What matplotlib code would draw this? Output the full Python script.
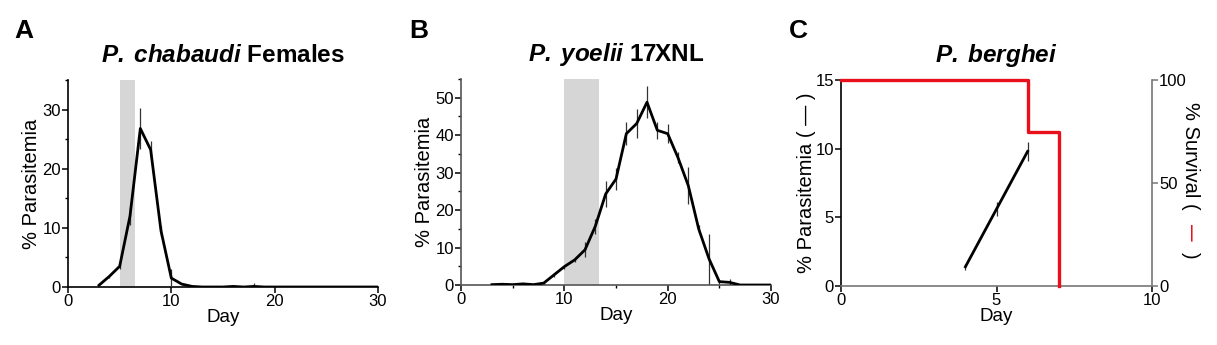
import numpy as np
import matplotlib
matplotlib.use("Agg")
import matplotlib.pyplot as plt
from matplotlib.ticker import MultipleLocator

plt.rcParams['font.family'] = ['Liberation Sans', 'DejaVu Sans']
plt.rcParams['mathtext.fontset'] = 'custom'
plt.rcParams['mathtext.bfit'] = 'Liberation Sans:italic:bold'
plt.rcParams['mathtext.it'] = 'Liberation Sans:italic'
plt.rcParams['mathtext.bf'] = 'Liberation Sans:bold'
plt.rcParams['mathtext.rm'] = 'Liberation Sans'

# P. chabaudi females: mean parasitemia and SEM per day
days_a = np.arange(3, 31)
mean_a = [0.3, 1.8, 3.5, 12.0, 26.8, 23.2, 9.5, 1.5, 0.5, 0.1,
          0.0, 0.0, 0.0, 0.1, 0.0, 0.1, 0.0, 0.0, 0.0, 0.0,
          0.0, 0.0, 0.0, 0.0, 0.0, 0.0, 0.0, 0.0]
sem_a = [0.2, 0.3, 0.5, 1.5, 3.4, 1.5, 0.8, 1.5, 0.2, 0.1,
         0.0, 0.0, 0.0, 0.3, 0.0, 0.5, 0.0, 0.0, 0.0, 0.0,
         0.0, 0.0, 0.0, 0.0, 0.0, 0.0, 0.0, 0.0]
shade_a = (5, 6.5)

# P. yoelii 17XNL
days_b = np.arange(3, 31)
mean_b = [0.1, 0.2, 0.1, 0.3, 0.1, 0.5, 2.7, 4.9, 6.7, 9.4,
          15.7, 24.3, 28.3, 40.4, 43.1, 48.8, 41.3, 40.4, 34.0, 26.5,
          15.0, 7.0, 0.9, 0.7, 0.0, 0.0, 0.0, 0.0]
sem_b = [0.1, 0.1, 0.1, 0.1, 0.1, 0.2, 0.5, 0.5, 0.5, 2.0,
         2.0, 3.5, 3.0, 3.0, 3.8, 4.2, 2.2, 2.5, 1.5, 5.0,
         1.0, 6.7, 0.5, 1.0, 0.0, 0.0, 0.0, 0.0]
shade_b = (10, 13.4)

# P. berghei: parasitemia and survival
days_c = [4, 5, 6]
mean_c = [1.4, 5.6, 9.8]
sem_c = [0.2, 0.5, 0.7]
surv_days = [0, 6, 7]
surv_pct = [100, 75, 0]

fig = plt.figure(figsize=(12.17, 3.45), dpi=100)
W, H = 1217, 345


def box(left, right, top, bottom):
    return [left / W, (H - bottom) / H, (right - left) / W, (bottom - top) / H]


ax_a = fig.add_axes(box(68, 378, 80, 287))
ax_b = fig.add_axes(box(461, 771, 79, 285))
ax_c = fig.add_axes(box(841, 1152, 80, 286))

tick_fs = 12
for ax in (ax_a, ax_b, ax_c):
    ax.spines['top'].set_visible(False)
    ax.spines['right'].set_visible(False)
    for s in ('left', 'bottom'):
        ax.spines[s].set_linewidth(1.2)
    ax.tick_params(direction='out', length=4, width=1.1, labelsize=tick_fs, pad=1)
    ax.tick_params(which='minor', direction='out', length=2.5, width=1.0)
    ax.set_xlabel('Day', fontsize=13.5, labelpad=0)


def curve(ax, x, m, e, shade, ymax, color_spine):
    ax.axvspan(*shade, color='#d6d6d6', lw=0, zorder=0)
    ax.errorbar(x, m, yerr=e, color='black', lw=2.0, elinewidth=0.9,
                ecolor='#333333', capsize=0, zorder=3)
    ax.set_xlim(0, 30)
    ax.set_ylim(0, ymax)
    ax.xaxis.set_major_locator(MultipleLocator(10))
    ax.yaxis.set_major_locator(MultipleLocator(10))
    ax.yaxis.set_minor_locator(MultipleLocator(5))
    ax.set_ylabel('% Parasitemia', fontsize=14.5, labelpad=1)
    for s in ('left', 'bottom'):
        ax.spines[s].set_color(color_spine)


curve(ax_a, days_a, mean_a, sem_a, shade_a, 35, 'black')
curve(ax_b, days_b, mean_b, sem_b, shade_b, 55, '#555555')
ax_b.xaxis.set_minor_locator(MultipleLocator(5))

title_fs = 17.5
ax_a.set_title(r'$\mathbfit{P.}\;\mathbfit{chabaudi}$ Females', fontsize=title_fs,
               fontweight='bold', pad=13)
ax_b.set_title(r'$\mathbfit{P.}\;\mathbfit{yoelii}$ 17XNL', fontsize=title_fs,
               fontweight='bold', pad=13)
ax_c.set_title(r'$\mathbfit{P.}\;\mathbfit{berghei}$', fontsize=title_fs,
               fontweight='bold', pad=13)

# berghei parasitemia (left) and survival (right)
ax_c.errorbar(days_c, mean_c, yerr=sem_c, color='black', lw=2.0,
              elinewidth=0.9, ecolor='#333333', capsize=0, zorder=3)
ax_c.set_xlim(0, 10)
ax_c.set_ylim(0, 15)
ax_c.xaxis.set_major_locator(MultipleLocator(5))
ax_c.yaxis.set_major_locator(MultipleLocator(5))
ax_c.spines['bottom'].set_color('#777777')
ax_c.set_ylabel('% Parasitemia ( \u2014 )', fontsize=14.5, labelpad=0)

ax_s = ax_c.twinx()
ax_s.step(surv_days, surv_pct, where='post', color='#e8101a', lw=2.4,
          clip_on=False, zorder=4)
ax_s.set_ylim(0, 100)
ax_s.yaxis.set_major_locator(MultipleLocator(50))
for s in ('top', 'left', 'bottom'):
    ax_s.spines[s].set_visible(False)
ax_s.spines['right'].set_color('#777777')
ax_s.spines['right'].set_linewidth(1.2)
ax_s.tick_params(direction='out', length=4, width=1.1, labelsize=tick_fs,
                 pad=1, color='#777777')

# right axis label with a red line marker inside the brackets
lx = 1.125
ax_s.text(lx, 0.895, '% Survival (', rotation=270, fontsize=14.5,
          ha='center', va='top', transform=ax_s.transAxes)
ax_s.text(lx, 0.30, '\u2014', rotation=270, fontsize=12, color='#e8101a',
          ha='center', va='top', transform=ax_s.transAxes, fontweight='bold')
ax_s.text(lx, 0.165, ')', rotation=270, fontsize=14.5,
          ha='center', va='top', transform=ax_s.transAxes)

for letter, x in (('A', 14), ('B', 409), ('C', 789)):
    fig.text(x / W, 1 - 38 / H, letter, fontsize=19, fontweight='bold',
             va='baseline', ha='left')

fig.savefig('out.png', dpi=100)
